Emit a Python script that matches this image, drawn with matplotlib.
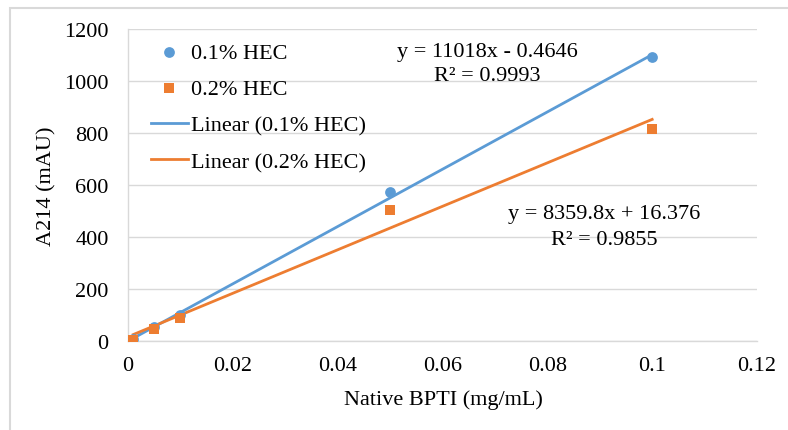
import matplotlib
matplotlib.use("Agg")
import matplotlib.pyplot as plt
from matplotlib.patches import Rectangle
import numpy as np

# Native BPTI concentration (mg/mL) and A214 response (mAU)
conc = [0.001, 0.005, 0.01, 0.05, 0.1]
hec01 = [8, 52, 100, 572, 1091]
hec02 = [5, 45, 88, 505, 815]

# Linear trendline coefficients (slope, intercept) and R²
fit01 = (11018, -0.4646, 0.9993)
fit02 = (8359.8, 16.376, 0.9855)

x_ticks = [0, 0.02, 0.04, 0.06, 0.08, 0.1, 0.12]
x_tick_labels = ["0", "0.02", "0.04", "0.06", "0.08", "0.1", "0.12"]
y_ticks = [0, 200, 400, 600, 800, 1000, 1200]

blue = "#5B9BD5"
orange = "#ED7D31"
grid = "#D9D9D9"
FS = 16

plt.rcParams["font.family"] = ["Liberation Serif", "DejaVu Serif"]

W, H = 788, 431
fig = plt.figure(figsize=(W / 100, H / 100), dpi=100)
ax = fig.add_axes([128 / W, 1 - 342 / H, (757 - 128) / W, (342 - 30) / H])

# outer chart frame
fig.patches.append(Rectangle((10 / W, -0.01), 1, 1 - 9 / H + 0.01, transform=fig.transFigure,
                             fill=False, edgecolor="#D9D9D9", linewidth=1.5))

xs = np.array([conc[0], conc[-1]])
ax.plot(xs, fit01[0] * xs + fit01[1], color=blue, lw=2.0, label="Linear (0.1% HEC)", zorder=3)
ax.plot(xs, fit02[0] * xs + fit02[1], color=orange, lw=2.0, label="Linear (0.2% HEC)", zorder=3)
ax.scatter(conc, hec01, marker="o", s=60, color=blue, label="0.1% HEC", zorder=4, linewidths=0)
ax.scatter(conc, hec02, marker="s", s=60, color=orange, label="0.2% HEC", zorder=4, linewidths=0)

ax.set_xlim(0, 0.12)
ax.set_ylim(0, 1200)
ax.set_xticks(x_ticks)
ax.set_xticklabels(x_tick_labels)
ax.set_yticks(y_ticks)
ax.tick_params(length=0, labelsize=FS, colors="#000000")
ax.tick_params(axis="x", pad=11)
ax.tick_params(axis="y", pad=14)
ax.yaxis.grid(True, color=grid, lw=1.0)
ax.set_axisbelow(True)
for s in ("top", "right"):
    ax.spines[s].set_visible(False)
for s in ("left", "bottom"):
    ax.spines[s].set_color(grid)
    ax.spines[s].set_linewidth(1.0)

fig.text(443 / W, 1 - 400 / H, "Native BPTI (mg/mL)", fontsize=FS, ha="center", va="center")
fig.text(47 / W, 1 - 186 / H, "A214 (mAU)", fontsize=FS, ha="center", va="center", rotation=90)

ax.text(0.0686, 1112, f"y = {fit01[0]:g}x - {abs(fit01[1]):g}", ha="center", va="center", fontsize=FS)
ax.text(0.0686, 1020, f"R² = {fit01[2]:.4f}", ha="center", va="center", fontsize=FS)
ax.text(0.0909, 492, f"y = {fit02[0]:g}x + {fit02[1]:g}", ha="center", va="center", fontsize=FS)
ax.text(0.0909, 390, f"R² = {fit02[2]:.4f}", ha="center", va="center", fontsize=FS)

handles, labels = ax.get_legend_handles_labels()
order = [2, 3, 0, 1]
fig.legend([handles[i] for i in order], [labels[i] for i in order],
           loc="upper left", bbox_to_anchor=(151 / W, 1 - 43 / H),
           frameon=False, fontsize=FS, handlelength=1.65, handletextpad=0.15,
           labelspacing=0.72, borderpad=0, borderaxespad=0, scatterpoints=1)

fig.savefig("out.png", dpi=100)
